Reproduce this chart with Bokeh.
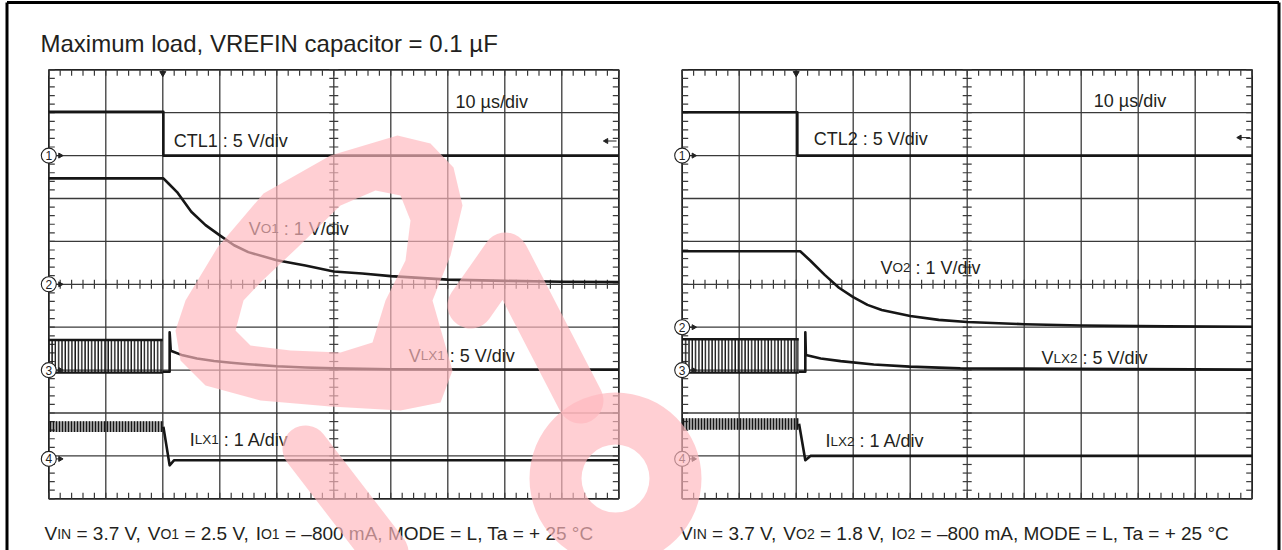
import numpy as np
from bokeh.plotting import figure
from bokeh.models import Range1d, Label
from bokeh.embed import file_html
from bokeh.resources import INLINE

# ---------------- DATA ----------------
title_text = "Maximum load, VREFIN capacitor = 0.1 µF"
timebase_text = "10 µs/div"
time_per_div = 10.0          # µs per division
n_div = 10                   # divisions in each direction

# channel settings: units per division, ground position (divisions from bottom)
left_scale = [5.0, 1.0, 5.0, 1.0]
left_offset = [8.0, 5.0, 3.0, 0.93]
right_scale = [5.0, 1.0, 5.0, 1.0]
right_offset = [8.0, 4.0, 3.0, 0.93]
channel_marks = ["1", "2", "3", "4"]

# ---- left scope (output 1) : t in µs
ctl1_t = [0, 20.1, 20.1, 100]
ctl1_v = [5.1, 5.1, 0.0, 0.0]
vo1_t = [0, 20.1, 21, 22.5, 25, 27.5, 30, 32.5, 35, 40, 45, 50, 55, 60, 65, 70, 80, 90, 100]
vo1_v = [2.47, 2.47, 2.35, 2.15, 1.69, 1.38, 1.14, 0.91, 0.75, 0.56, 0.44, 0.30, 0.25,
         0.19, 0.15, 0.11, 0.08, 0.06, 0.05]
vlx1_sw_t = [0, 20.0]            # switching burst window
vlx1_sw_lo = [-0.3, -0.3]
vlx1_sw_hi = [3.5, 3.5]
vlx1_t = [20.0, 21.2, 21.2, 21.4, 23.5, 26, 29, 32, 35, 40, 45, 50, 60, 100]
vlx1_v = [-0.2, -0.2, 4.4, 2.25, 1.72, 1.35, 1.06, 0.85, 0.68, 0.45, 0.30, 0.20, 0.10, 0.05]
ilx1_band_t = [0, 20.1]          # noisy inductor current before shutdown
ilx1_band_lo = [0.63, 0.63]
ilx1_band_hi = [0.88, 0.88]
ilx1_t = [20.1, 21.2, 22.0, 100]
ilx1_v = [0.75, -0.15, -0.03, -0.03]
trig_t_left = 20.0
trig_level_left = 1.7            # V on channel 1

# ---- right scope (output 2)
ctl2_t = [0, 20.2, 20.2, 100]
ctl2_v = [5.05, 5.05, 0.0, 0.0]
vo2_t = [0, 20.7, 22.5, 25, 27.5, 30, 32.5, 35, 40, 45, 50, 60, 70, 85, 100]
vo2_v = [1.77, 1.77, 1.55, 1.22, 0.92, 0.70, 0.52, 0.40, 0.26, 0.17, 0.12, 0.07, 0.04, 0.02, 0.01]
vlx2_sw_t = [0, 20.45]
vlx2_sw_lo = [-0.3, -0.3]
vlx2_sw_hi = [3.6, 3.6]
vlx2_t = [20.45, 21.6, 21.6, 21.7, 24.3, 27.8, 33.6, 39.9, 48.8, 100]
vlx2_v = [-0.2, -0.2, 4.4, 1.75, 1.36, 1.05, 0.66, 0.40, 0.20, 0.05]
ilx2_band_t = [0, 20.5]
ilx2_band_lo = [0.68, 0.68]
ilx2_band_hi = [0.95, 0.95]
ilx2_t = [20.5, 21.6, 22.5, 100]
ilx2_v = [0.82, -0.03, 0.07, 0.07]
trig_t_right = 20.0
trig_level_right = 2.1

# label texts: runs of (text, "n" normal size / "s" small size)
left_labels = [
    [("CTL1 : 5 V/div", "n")],
    [("V", "n"), ("O1", "s"), (" : 1 V/div", "n")],
    [("V", "n"), ("LX1", "s"), (" : 5 V/div", "n")],
    [("I", "n"), ("LX1", "s"), (" : 1 A/div", "n")],
]
right_labels = [
    [("CTL2 : 5 V/div", "n")],
    [("V", "n"), ("O2", "s"), (" : 1 V/div", "n")],
    [("V", "n"), ("LX2", "s"), (" : 5 V/div", "n")],
    [("I", "n"), ("LX2", "s"), (" : 1 A/div", "n")],
]
left_cond = [("V", "n"), ("IN", "s"), (" = 3.7 V, ", "n"), ("V", "n"), ("O1", "s"),
             (" = 2.5 V, ", "n"), ("I", "n"), ("O1", "s"),
             (" = \u2013800 mA, MODE = L, Ta = + 25 °C", "n")]
right_cond = [("V", "n"), ("IN", "s"), (" = 3.7 V, ", "n"), ("V", "n"), ("O2", "s"),
              (" = 1.8 V, ", "n"), ("I", "n"), ("O2", "s"),
              (" = \u2013800 mA, MODE = L, Ta = + 25 °C", "n")]

# pink watermark outlines (picture pixels)
wm_ring_outer_x = [175, 185, 217, 263, 330, 397, 430, 453, 462, 450, 432, 452, 440, 400, 330, 260, 205, 180]
wm_ring_outer_y = [330, 300, 247, 193, 155, 135, 143, 167, 205, 255, 300, 370, 402, 410, 406, 400, 385, 360]
wm_ring_inner_x = [235, 243, 262, 297, 340, 375, 400, 410, 405, 385, 372, 340, 290, 250]
wm_ring_inner_y = [330, 300, 280, 247, 205, 190, 195, 220, 260, 300, 342, 352, 350, 345]
wm_stroke_x = [[470, 505, 580], [305, 385]]
wm_stroke_y = [[305, 255, 400], [448, 552]]
wm_disc = (615, 478, 86, 34)     # centre x, centre y, outer radius, inner radius

# ---------------- LAYOUT (picture pixel positions) ----------------
FIG_W, FIG_H = 1282, 550
L_X0, R_X0 = 48.3, 681.7          # left edges of the two screens
SCR_W, SCR_H = 570.0, 429.0
SCR_TOP = 69.3
PX_T = SCR_W / (n_div * time_per_div)   # px per µs
PX_D = SCR_H / n_div                    # px per division

FONT = "Liberation Sans"
TXT = "#231f20"
GRID = "#3a3a3a"
TRACE = "#161616"
PINK = "#ffb8bd"

# Arial / Liberation Sans advance widths (per 1000 em)
AW = {' ': 278, '.': 278, ',': 278, ':': 278, '/': 278, '=': 584, '+': 584, '\u2013': 556,
      '°': 400, 'µ': 576}
for ch in "0123456789":
    AW[ch] = 556
AW.update(dict(A=667, B=667, C=722, D=722, E=667, F=611, G=778, H=722, I=278, J=500, K=667,
               L=556, M=833, N=722, O=778, P=667, Q=778, R=722, S=667, T=611, U=722, V=667,
               W=944, X=667, Y=667, Z=611))
AW.update(dict(a=556, b=556, c=500, d=556, e=556, f=278, g=556, h=556, i=222, j=222, k=500,
               l=222, m=833, n=556, o=556, p=556, q=556, r=333, s=500, t=278, u=556, v=500,
               w=722, x=500, y=500, z=500))


def tw(s, size):
    return sum(AW.get(c, 556) for c in s) / 1000.0 * size


p = figure(width=FIG_W, height=FIG_H, x_range=Range1d(0, FIG_W), y_range=Range1d(FIG_H, 0),
           toolbar_location=None, output_backend="svg", min_border=0,
           x_axis_location=None, y_axis_location=None, outline_line_color=None,
           background_fill_color="white", border_fill_color="white")
p.xgrid.visible = False
p.ygrid.visible = False

p.extra_y_ranges = {"div": Range1d(-(FIG_H - SCR_TOP - SCR_H) / PX_D, n_div + SCR_TOP / PX_D)}
p.extra_x_ranges = {}
for name, x0 in (("tL", L_X0), ("tR", R_X0)):
    p.extra_x_ranges[name] = Range1d(-x0 / PX_T, (FIG_W - x0) / PX_T)

# outer border of the box
p.line([6.5, 6.5], [FIG_H, 2], line_color="black", line_width=3)
p.line([6.5, FIG_W - 3.5], [2, 2], line_color="black", line_width=3)
p.line([FIG_W - 3.5, FIG_W - 3.5], [2, FIG_H], line_color="black", line_width=3)


def runs_at(runs, x, y, n_size, s_size):
    for txt, kind in runs:
        size = n_size if kind == "n" else s_size
        lead = len(txt) - len(txt.lstrip(" "))
        body = txt.strip(" ")
        p.add_layout(Label(x=x + tw(" " * lead, size), y=y, text=body,
                           text_font=FONT, text_font_size=f"{size}px", text_color=TXT,
                           text_baseline="alphabetic", text_align="left"))
        x += tw(txt, size)


def scope(xr, scale, offset, traces, switching, band, trig_t, trig_lvl):
    kw = dict(x_range_name=xr, y_range_name="div")
    T = n_div * time_per_div
    # graticule
    xs = [i * time_per_div for i in range(n_div + 1)]
    ys = list(range(n_div + 1))
    p.segment(x0=xs, y0=[0] * len(xs), x1=xs, y1=[n_div] * len(xs),
              line_color=GRID, line_width=1.3, **kw)
    p.segment(x0=[0] * len(ys), y0=ys, x1=[T] * len(ys), y1=ys,
              line_color=GRID, line_width=1.3, **kw)
    p.segment(x0=[0, T, 0, 0], y0=[0, 0, 0, n_div], x1=[0, T, T, T], y1=[n_div, n_div, 0, n_div],
              line_color="#222", line_width=1.6, **kw)
    tx = list(np.arange(0, T + 1e-6, time_per_div / 5))
    ty = list(np.arange(0, n_div + 1e-6, 0.2))
    el_t, el_d = 6 / PX_T, 6 / PX_D
    cl_t, cl_d = 4.5 / PX_T, 4.5 / PX_D
    x0s, y0s, x1s, y1s = [], [], [], []
    for t in tx:
        x0s += [t, t, t]
        y0s += [n_div, 0, n_div / 2 - cl_d]
        x1s += [t, t, t]
        y1s += [n_div - el_d, el_d, n_div / 2 + cl_d]
    for d in ty:
        x0s += [0, T, T / 2 - cl_t]
        y0s += [d, d, d]
        x1s += [el_t, T - el_t, T / 2 + cl_t]
        y1s += [d, d, d]
    p.segment(x0=x0s, y0=y0s, x1=x1s, y1=y1s, line_color=GRID, line_width=1.2, **kw)

    # switching burst (channel 3) and noisy current band (channel 4)
    st, slo, shi = switching
    lo = [offset[2] + v / scale[2] for v in slo]
    hi = [offset[2] + v / scale[2] for v in shi]
    p.varea(x=st, y1=lo, y2=hi, fill_alpha=0, hatch_pattern="|", hatch_color=TRACE,
            hatch_weight=1.5, hatch_scale=3.3, **kw)
    p.line(st, hi, line_color=TRACE, line_width=2.4, **kw)
    p.line(st, lo, line_color=TRACE, line_width=2.4, **kw)
    bt, blo, bhi = band
    lo = [offset[3] + v / scale[3] for v in blo]
    hi = [offset[3] + v / scale[3] for v in bhi]
    p.varea(x=bt, y1=lo, y2=hi, fill_color=TRACE, fill_alpha=0.45, hatch_pattern="|",
            hatch_color=TRACE, hatch_weight=1.0, hatch_scale=3, **kw)

    # traces
    for ch, (t, v) in enumerate(traces):
        y = [offset[ch] + a / scale[ch] for a in v]
        p.line(t, y, line_color=TRACE, line_width=2.6, line_join="round", **kw)

    # trigger position (top) and trigger level (right edge)
    p.scatter([trig_t], [n_div - 3.5 / PX_D], marker="inverted_triangle", size=6,
              fill_color="#222", line_color="#222", **kw)
    ly = offset[0] + trig_lvl / scale[0]
    p.segment(x0=[T - 2.2], y0=[ly], x1=[T - 0.4], y1=[ly], line_color="#222", line_width=1, **kw)
    p.scatter([T - 2.2], [ly], marker="triangle", angle=np.pi / 2, size=5,
              fill_color="#222", line_color="#222", **kw)

    # channel ground markers
    mx = [0.0] * 4
    p.segment(x0=[1.2] * 4, y0=offset, x1=[2.2] * 4, y1=offset, line_color="#222",
              line_width=1, **kw)
    p.scatter([2.0] * 4, offset, marker="triangle", angle=-np.pi / 2, size=5,
              fill_color="#222", line_color="#222", **kw)
    p.scatter(mx, offset, marker="circle", size=15, fill_color="white",
              line_color="#222", line_width=1.1, **kw)
    p.text(mx, offset, text=channel_marks, text_align="center", text_baseline="middle",
           text_font_size="12px", text_color="#222", **kw)


scope("tL", left_scale, left_offset,
      [(ctl1_t, ctl1_v), (vo1_t, vo1_v), (vlx1_t, vlx1_v), (ilx1_t, ilx1_v)],
      (vlx1_sw_t, vlx1_sw_lo, vlx1_sw_hi), (ilx1_band_t, ilx1_band_lo, ilx1_band_hi),
      trig_t_left, trig_level_left)
scope("tR", right_scale, right_offset,
      [(ctl2_t, ctl2_v), (vo2_t, vo2_v), (vlx2_t, vlx2_v), (ilx2_t, ilx2_v)],
      (vlx2_sw_t, vlx2_sw_lo, vlx2_sw_hi), (ilx2_band_t, ilx2_band_lo, ilx2_band_hi),
      trig_t_right, trig_level_right)

# texts (positions of the first character and baseline)
runs_at([(title_text, "n")], 40, 42.5, 24, 24)
for (x, y) in ((455, 101.7), (1093.3, 100.5)):
    runs_at([(timebase_text, "n")], x, y, 18, 18)
for runs, (x, y) in zip(left_labels, ((173.3, 140), (248.3, 228.3), (408.3, 355), (189.3, 439))):
    runs_at(runs, x, y, 18, 13.5)
for runs, (x, y) in zip(right_labels, ((813.3, 138.5), (880, 267.3), (1041, 357.7), (825, 440.7))):
    runs_at(runs, x, y, 18, 13.5)
runs_at(left_cond, 44, 533, 19, 14)
runs_at(right_cond, 679.6, 533, 19, 14)

# translucent pink watermark on top of everything
p.multi_polygons(xs=[[[wm_ring_outer_x, wm_ring_inner_x]]], ys=[[[wm_ring_outer_y, wm_ring_inner_y]]],
                 fill_color=PINK, fill_alpha=0.67, line_color=None, level="overlay")
p.multi_line(wm_stroke_x, wm_stroke_y, line_color=PINK, line_alpha=0.67, line_width=46,
             line_cap="round", line_join="round", level="overlay")
cx, cy, ro, ri = wm_disc
p.annulus([cx], [cy], inner_radius=ri, outer_radius=ro, inner_radius_units="screen",
          outer_radius_units="screen", fill_color=PINK, fill_alpha=0.67, line_color=None,
          level="overlay")

open("out.html", "w").write(file_html(p, INLINE))
